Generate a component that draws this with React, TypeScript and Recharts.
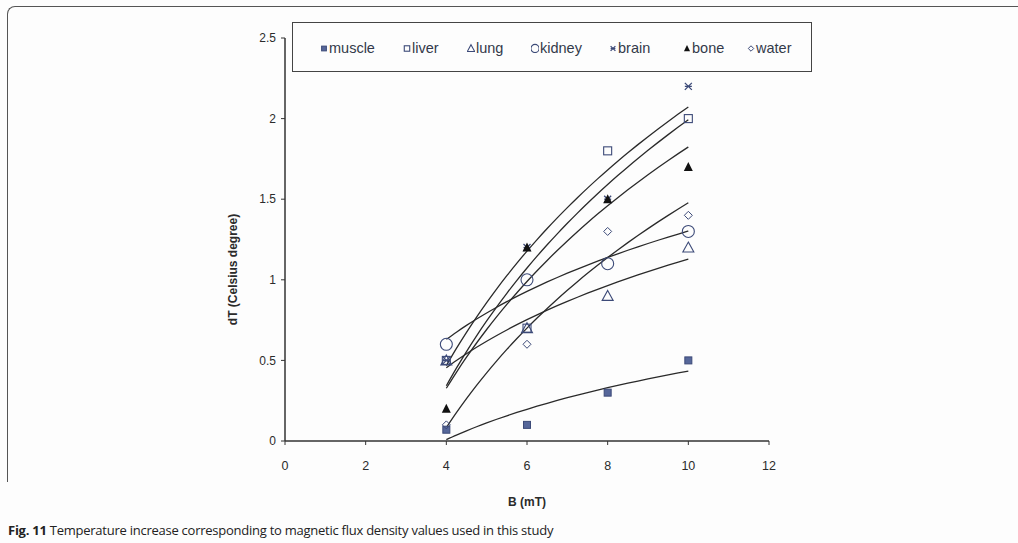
import React from "react";
import { ComposedChart, Line, Scatter, XAxis, YAxis } from "recharts";

// Measured temperature rise (°C) at each flux density (mT)
const B_VALUES = [4, 6, 8, 10];
const MUSCLE = [0.07, 0.1, 0.3, 0.5];
const LIVER = [0.5, 0.7, 1.8, 2.0];
const LUNG = [0.5, 0.7, 0.9, 1.2];
const KIDNEY = [0.6, 1.0, 1.1, 1.3];
const BRAIN = [0.5, 1.2, 1.5, 2.2];
const BONE = [0.2, 1.2, 1.5, 1.7];
const WATER = [0.1, 0.6, 1.3, 1.4];

const X_TICKS = [0, 2, 4, 6, 8, 10, 12];
const Y_TICKS = [0, 0.5, 1, 1.5, 2, 2.5];

type MarkerKind =
  | "squareFilled"
  | "square"
  | "triangle"
  | "circle"
  | "cross"
  | "triangleFilled"
  | "diamond";

type Series = { name: string; values: number[]; marker: MarkerKind };

const SERIES: Series[] = [
  { name: "muscle", values: MUSCLE, marker: "squareFilled" },
  { name: "liver", values: LIVER, marker: "square" },
  { name: "lung", values: LUNG, marker: "triangle" },
  { name: "kidney", values: KIDNEY, marker: "circle" },
  { name: "brain", values: BRAIN, marker: "cross" },
  { name: "bone", values: BONE, marker: "triangleFilled" },
  { name: "water", values: WATER, marker: "diamond" },
];

// left offset of each legend entry inside the legend box
const LEGEND_SLOTS = [27, 110, 174, 238, 316, 390, 454];

const INK = "#3c4a78";
const LINE = "#2a2a2a";
const TEXT = "#2b2b2b";

/** Logarithmic least-squares trendline y = a·ln(x) + b, sampled along x. */
function logTrend(xs: number[], ys: number[]) {
  const lx = xs.map((x) => Math.log(x));
  const mx = lx.reduce((s, v) => s + v, 0) / lx.length;
  const my = ys.reduce((s, v) => s + v, 0) / ys.length;
  let sxy = 0;
  let sxx = 0;
  lx.forEach((v, i) => {
    sxy += (v - mx) * (ys[i] - my);
    sxx += (v - mx) * (v - mx);
  });
  const a = sxy / sxx;
  const b = my - a * mx;
  const pts = [];
  for (let x = xs[0]; x <= xs[xs.length - 1] + 1e-9; x += 0.25) {
    pts.push({ x, y: a * Math.log(x) + b });
  }
  return pts;
}

function Marker({ kind, cx, cy, scale = 1 }: { kind: MarkerKind; cx: number; cy: number; scale?: number }) {
  const s = scale;
  switch (kind) {
    case "squareFilled":
      return <rect x={cx - 3.5 * s} y={cy - 3.5 * s} width={7 * s} height={7 * s} fill="#56679a" stroke={INK} strokeWidth={1} />;
    case "square":
      return <rect x={cx - 4 * s} y={cy - 4 * s} width={8 * s} height={8 * s} fill="none" stroke={INK} strokeWidth={1.1} />;
    case "triangle":
      return (
        <polygon
          points={`${cx},${cy - 5.5 * s} ${cx + 5.5 * s},${cy + 4.5 * s} ${cx - 5.5 * s},${cy + 4.5 * s}`}
          fill="none"
          stroke={INK}
          strokeWidth={1.1}
        />
      );
    case "circle":
      return <circle cx={cx} cy={cy} r={6 * s} fill="none" stroke={INK} strokeWidth={1.1} />;
    case "cross":
      return (
        <g stroke={INK} strokeWidth={1.3}>
          <line x1={cx - 3.5 * s} y1={cy - 3.5 * s} x2={cx + 3.5 * s} y2={cy + 3.5 * s} />
          <line x1={cx - 3.5 * s} y1={cy + 3.5 * s} x2={cx + 3.5 * s} y2={cy - 3.5 * s} />
          <line x1={cx - 3.5 * s} y1={cy} x2={cx + 3.5 * s} y2={cy} />
        </g>
      );
    case "triangleFilled":
      return (
        <polygon
          points={`${cx},${cy - 5 * s} ${cx + 4.5 * s},${cy + 4 * s} ${cx - 4.5 * s},${cy + 4 * s}`}
          fill="#111"
        />
      );
    case "diamond":
      return (
        <polygon
          points={`${cx},${cy - 4 * s} ${cx + 4 * s},${cy} ${cx},${cy + 4 * s} ${cx - 4 * s},${cy}`}
          fill="none"
          stroke={INK}
          strokeWidth={1}
        />
      );
  }
  return null;
}

function LegendBox() {
  return (
    <div
      style={{
        position: "absolute",
        left: 292,
        top: 22,
        width: 520,
        height: 50,
        boxSizing: "border-box",
        border: "1.5px solid #444",
        background: "#fdfdfd",
        fontFamily: "'Liberation Sans', Arial, sans-serif",
        fontSize: 14.5,
        color: "#333a4a",
      }}
    >
      {SERIES.map((s, i) => (
        <span
          key={s.name}
          style={{
            position: "absolute",
            left: LEGEND_SLOTS[i],
            top: 17,
            display: "flex",
            alignItems: "center",
          }}
        >
          <svg width={8} height={10} style={{ marginRight: 1 }}>
            <Marker kind={s.marker} cx={4} cy={5.5} scale={0.68} />
          </svg>
          {s.name}
        </span>
      ))}
    </div>
  );
}

function YTitle({ viewBox }: any) {
  const x = viewBox.x + 8;
  const y = viewBox.y + viewBox.height / 2 + 30;
  return (
    <text
      x={x}
      y={y}
      transform={`rotate(-90 ${x} ${y})`}
      textAnchor="middle"
      dominantBaseline="central"
      fontWeight="bold"
      fontSize={12}
      fill={TEXT}
    >
      dT (Celsius degree)
    </text>
  );
}

function XTitle({ viewBox }: any) {
  const x = viewBox.x + viewBox.width / 2;
  const y = viewBox.y + 61;
  return (
    <text x={x} y={y} textAnchor="middle" dominantBaseline="central" fontWeight="bold" fontSize={12} fill={TEXT}>
      B (mT)
    </text>
  );
}

export default function App() {
  return (
    <div
      style={{
        position: "absolute",
        left: 0,
        top: 0,
        width: 1018,
        height: 543,
        background: "#fdfdfd",
        overflow: "hidden",
        fontFamily: "'Liberation Sans', Arial, sans-serif",
      }}
    >
      {/* page frame */}
      <div
        style={{
          position: "absolute",
          left: 7,
          top: 6,
          width: 1040,
          height: 475,
          borderTop: "1.5px solid #555",
          borderLeft: "1.5px solid #555",
          borderTopLeftRadius: 8,
        }}
      />

      <div style={{ position: "absolute", left: 0, top: 0 }}>
        <ComposedChart
          width={1018}
          height={543}
          margin={{ top: 38, right: 249, bottom: 72, left: 225 }}
        >
          <XAxis
            type="number"
            dataKey="x"
            domain={[0, 12]}
            ticks={X_TICKS}
            tick={{ fill: TEXT, fontSize: 12.5 }}
            tickSize={4}
            tickMargin={16}
            axisLine={{ stroke: "#333", strokeWidth: 1.5 }}
            tickLine={{ stroke: "#333" }}
            height={30}
            label={<XTitle />}
          />
          <YAxis
            type="number"
            domain={[0, 2.5]}
            ticks={Y_TICKS}
            tick={{ fill: TEXT, fontSize: 12 }}
            tickSize={4}
            tickMargin={5}
            axisLine={{ stroke: "#333", strokeWidth: 1.5 }}
            tickLine={{ stroke: "#333" }}
            width={60}
            label={<YTitle />}
          />

          {SERIES.map((s) => (
            <Line
              key={`trend-${s.name}`}
              data={logTrend(B_VALUES, s.values)}
              dataKey="y"
              type="monotone"
              stroke={LINE}
              strokeWidth={1.3}
              dot={false}
              activeDot={false}
              legendType="none"
              isAnimationActive={false}
            />
          ))}

          {SERIES.map((s) => (
            <Scatter
              key={s.name}
              name={s.name}
              data={B_VALUES.map((x, i) => ({ x, y: s.values[i] }))}
              dataKey="y"
              shape={(p: any) => <Marker kind={s.marker} cx={p.cx} cy={p.cy} />}
              isAnimationActive={false}
            />
          ))}
        </ComposedChart>
      </div>

      <LegendBox />

      <div
        style={{
          position: "absolute",
          left: 8,
          top: 521,
          fontFamily: "'Open Sans', sans-serif",
          fontSize: 13,
          letterSpacing: -0.25,
          color: "#222",
          whiteSpace: "nowrap",
        }}
      >
        <b>Fig. 11</b> Temperature increase corresponding to magnetic flux density values used in this study
      </div>
    </div>
  );
}
